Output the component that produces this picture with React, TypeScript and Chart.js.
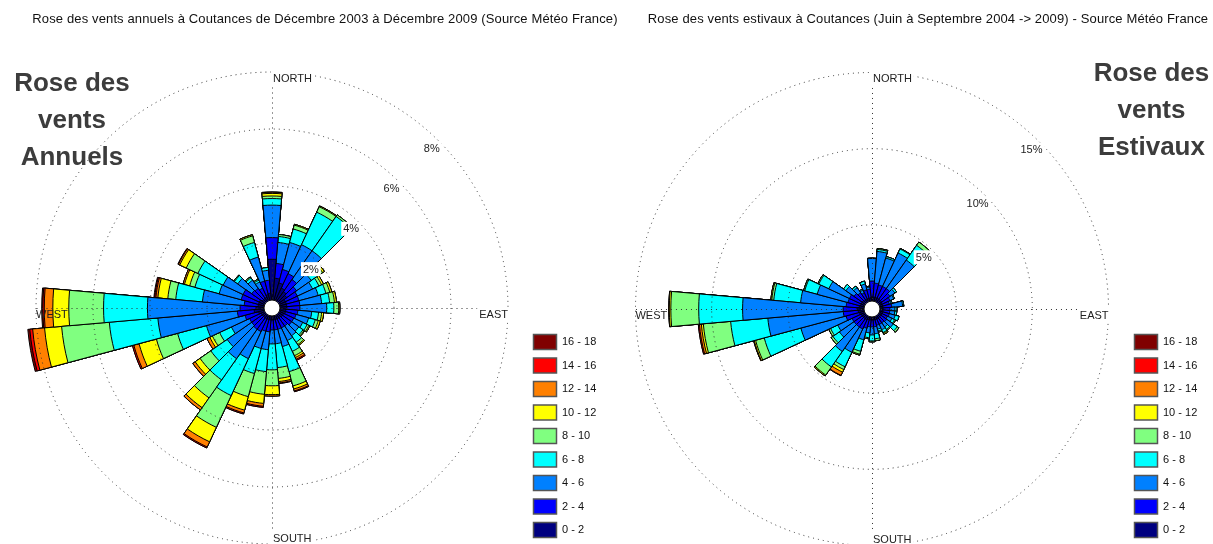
import React, { useEffect, useRef } from "react";
import { Chart, registerables } from "chart.js";

Chart.register(...registerables);

// Wind directions (degrees, clockwise from north), 10° sectors
const directions = [0, 10, 20, 30, 40, 50, 60, 70, 80, 90, 100, 110, 120, 130, 140, 150, 160, 170,
  180, 190, 200, 210, 220, 230, 240, 250, 260, 270, 280, 290, 300, 310, 320, 330, 340, 350];

const speedClasses = ["0 - 2", "2 - 4", "4 - 6", "6 - 8", "8 - 10", "10 - 12", "12 - 14", "14 - 16", "16 - 18"];
const classColors = ["#000080", "#0000FF", "#0080FF", "#00FFFF", "#80FF80", "#FFFF00", "#FF8000", "#FF0000", "#800000"];

// Annual rose (% of time per direction and speed class)
const annual_0_2 = [1.43, 0.77, 0.63, 0.49, 0.42, 0.35, 0.24, 0.24, 0.24, 0.24, 0.21, 0.21, 0.17, 0.17, 0.14, 0.14, 0.14, 0.14, 0.14, 0.14, 0.14, 0.14, 0.14, 0.14, 0.14, 0.21, 0.35, 0.28, 0.21, 0.21, 0.21, 0.14, 0.14, 0.14, 0.21, 0.24];
const annual_2_4 = [0.76, 0.52, 0.49, 0.56, 0.52, 0.42, 0.46, 0.46, 0.46, 0.46, 0.42, 0.38, 0.39, 0.39, 0.35, 0.35, 0.35, 0.35, 0.35, 0.42, 0.42, 0.49, 0.49, 0.45, 0.45, 0.49, 0.59, 0.56, 0.49, 0.63, 0.63, 0.45, 0.42, 0.35, 0.49, 0.46];
const annual_4_6 = [1.14, 0.74, 0.98, 1.12, 1.23, 0.63, 0.59, 0.70, 0.77, 0.94, 0.49, 0.46, 0.35, 0.31, 0.42, 0.49, 0.63, 0.49, 0.49, 0.63, 0.63, 1.05, 1.26, 1.05, 0.70, 1.40, 2.80, 3.25, 1.47, 0.80, 0.77, 0.60, 0.35, 0.24, 0.87, 0.35];
const annual_6_8 = [0.23, 0.21, 0.49, 1.26, 1.47, 0.35, 0.25, 0.28, 0.28, 0.25, 0.24, 0.24, 0.17, 0.18, 0.28, 0.42, 0.91, 0.84, 0.91, 0.77, 0.91, 1.43, 0.91, 0.70, 0.46, 1.05, 1.71, 1.54, 0.94, 0.88, 0.98, 0.14, 0.10, 0.07, 0.53, 0.10];
const annual_8_10 = [0.09, 0.07, 0.14, 0.21, 0.07, 0.14, 0.10, 0.14, 0.17, 0.17, 0.11, 0.11, 0.07, 0.05, 0.10, 0.17, 0.52, 0.38, 0.56, 0.80, 0.84, 1.23, 0.77, 0.46, 0.28, 0.77, 1.68, 1.22, 0.28, 0.19, 0.45, 0.03, 0.04, 0.04, 0.24, 0];
const annual_10_12 = [0.09, 0, 0.03, 0.03, 0, 0.07, 0.07, 0.07, 0.07, 0.04, 0.07, 0.07, 0.04, 0.02, 0.04, 0.07, 0.11, 0.11, 0.31, 0.32, 0.49, 0.56, 0.42, 0.21, 0.10, 0.63, 0.60, 0.56, 0.35, 0.19, 0.25, 0, 0, 0, 0.04, 0];
const annual_12_14 = [0.04, 0, 0, 0, 0, 0, 0, 0, 0, 0, 0, 0, 0, 0, 0, 0.07, 0.07, 0.05, 0.05, 0.10, 0.10, 0.20, 0.10, 0.10, 0.11, 0.19, 0.42, 0.30, 0.07, 0.05, 0.05, 0, 0, 0, 0, 0];
const annual_14_16 = [0.01, 0, 0, 0, 0, 0, 0, 0, 0, 0, 0, 0, 0, 0, 0, 0.04, 0.03, 0.02, 0, 0.04, 0.04, 0.04, 0, 0, 0, 0.05, 0.10, 0.05, 0.04, 0, 0.02, 0, 0, 0, 0, 0];
const annual_16_18 = [0, 0, 0, 0, 0, 0, 0, 0, 0, 0, 0, 0, 0, 0, 0, 0, 0, 0, 0, 0, 0, 0, 0, 0, 0, 0, 0.07, 0.04, 0.03, 0, 0, 0, 0, 0, 0, 0];

// Summer rose (June - September)
const summer_0_2 = [0.26, 0.26, 0.26, 0.26, 0.26, 0.26, 0.20, 0.20, 0.20, 0.20, 0.20, 0.20, 0.20, 0.20, 0.20, 0.20, 0.20, 0.20, 0.20, 0.20, 0.20, 0.26, 0.26, 0.26, 0.26, 0.33, 0.39, 0.46, 0.33, 0.26, 0.26, 0.26, 0.20, 0.20, 0.20, 0.20];
const summer_2_4 = [1.05, 0.92, 0.85, 0.85, 0.85, 0.66, 0.58, 0.45, 0.58, 0.45, 0.45, 0.45, 0.39, 0.45, 0.39, 0.39, 0.39, 0.45, 0.45, 0.45, 0.58, 0.66, 0.66, 0.66, 0.66, 0.91, 0.98, 0.91, 0.85, 0.85, 0.85, 0.66, 0.58, 0.45, 0.58, 0.58];
const summer_4_6 = [1.48, 2.09, 1.83, 2.42, 2.29, 0.39, 0.27, 0.13, 0.72, 0.33, 0.33, 0.40, 0.33, 0.53, 0.33, 0.39, 0.26, 0.46, 0.53, 0.40, 0.79, 1.69, 1.96, 1.17, 1.04, 3.07, 4.97, 6.60, 3.00, 2.09, 1.50, 0.65, 0.40, 0.20, 0.40, 0.14];
const summer_6_8 = [0.02, 0.13, 0.10, 0.29, 1.18, 0.13, 0.06, 0.07, 0.07, 0.13, 0.13, 0.26, 0.19, 0.32, 0.19, 0.20, 0.13, 0.33, 0.39, 0.32, 0.78, 1.05, 1.24, 0.52, 0.52, 2.49, 2.45, 2.88, 1.77, 0.85, 0.72, 0.19, 0.13, 0.07, 0.19, 0.06];
const summer_8_10 = [0, 0.06, 0, 0.04, 0.26, 0, 0, 0, 0, 0, 0, 0, 0.07, 0.13, 0.07, 0.06, 0.07, 0.13, 0.06, 0.07, 0.20, 0.20, 0.65, 0.14, 0.13, 0.59, 1.80, 1.83, 0.13, 0.07, 0.07, 0, 0, 0, 0, 0];
const summer_10_12 = [0, 0, 0, 0, 0, 0, 0, 0, 0, 0, 0, 0, 0, 0, 0, 0.07, 0, 0, 0, 0, 0.06, 0.19, 0.07, 0, 0, 0.09, 0.13, 0.10, 0.06, 0, 0, 0, 0, 0, 0, 0];
const summer_12_14 = [0, 0, 0, 0, 0, 0, 0, 0, 0, 0, 0, 0, 0, 0, 0, 0, 0, 0, 0, 0, 0, 0.23, 0, 0, 0, 0.04, 0.13, 0.03, 0, 0, 0, 0, 0, 0, 0, 0];
const summer_14_16 = [0, 0, 0, 0, 0, 0, 0, 0, 0, 0, 0, 0, 0, 0, 0, 0, 0, 0, 0, 0, 0, 0.03, 0, 0, 0, 0, 0.07, 0, 0, 0, 0, 0, 0, 0, 0, 0];
const summer_16_18 = [0, 0, 0, 0, 0, 0, 0, 0, 0, 0, 0, 0, 0, 0, 0, 0, 0, 0, 0, 0, 0, 0, 0, 0, 0, 0, 0, 0, 0, 0, 0, 0, 0, 0, 0, 0];

// Ring (tick) values in %
const annualRings = [2, 4, 6, 8];
const summerRings = [5, 10, 15];

const annualSeries = [annual_0_2, annual_2_4, annual_4_6, annual_6_8, annual_8_10, annual_10_12, annual_12_14, annual_14_16, annual_16_18];
const summerSeries = [summer_0_2, summer_2_4, summer_4_6, summer_6_8, summer_8_10, summer_10_12, summer_12_14, summer_14_16, summer_16_18];

const FONT = '"Liberation Sans", Arial, Helvetica, sans-serif';

function makeDecor(rings: number[], inset: number) {
  return {
    id: "roseDecor",
    afterDatasetsDraw(chart: any) {
      const s = chart.scales.r;
      const ctx = chart.ctx;
      const cx = s.xCenter + 0.5;
      const cy = s.yCenter + 0.5;
      const R = s.getDistanceFromCenterForValue(rings[rings.length - 1]);
      ctx.save();
      ctx.strokeStyle = "#333";
      ctx.lineWidth = 1;
      ctx.setLineDash([1, 4]);
      ctx.beginPath();
      ctx.moveTo(cx, cy - R);
      ctx.lineTo(cx, cy + R);
      ctx.moveTo(cx - R, cy);
      ctx.lineTo(cx + R, cy);
      ctx.stroke();
      ctx.restore();
    },
    afterDraw(chart: any) {
      const s = chart.scales.r;
      const ctx = chart.ctx;
      const cx = s.xCenter;
      const cy = s.yCenter;
      const R = s.getDistanceFromCenterForValue(rings[rings.length - 1]);
      const r0 = s.getDistanceFromCenterForValue(0);
      ctx.save();
      // central hole
      ctx.beginPath();
      ctx.arc(cx, cy, r0, 0, Math.PI * 2);
      ctx.fillStyle = "#fff";
      ctx.fill();
      ctx.strokeStyle = "#111";
      ctx.lineWidth = 1;
      ctx.stroke();

      ctx.font = "11px " + FONT;
      ctx.textBaseline = "middle";
      const put = (text: string, x: number, y: number, align: "left" | "right" | "center", bg: boolean) => {
        const w = ctx.measureText(text).width;
        let left = x;
        if (align === "right") left = x - w;
        if (align === "center") left = x - w / 2;
        if (bg) {
          ctx.fillStyle = "#fff";
          ctx.fillRect(left - 2, y - 7, w + 4, 14);
        }
        ctx.fillStyle = "#222";
        ctx.textAlign = "left";
        ctx.fillText(text, left, y + 0.5);
      };
      put("NORTH", cx + 1, cy - R + 6, "left", true);
      put("EAST", cx + R, cy + 6, "right", true);
      put("WEST", cx - R, cy + 6, "left", false);
      put("SOUTH", cx + 1, cy + R - 6, "left", true);
      const a = Math.PI / 4;
      rings.forEach((v) => {
        const d = s.getDistanceFromCenterForValue(v) - inset;
        put(v + "%", cx + d * Math.sin(a), cy - d * Math.cos(a), "center", true);
      });
      ctx.restore();
    },
  };
}

function buildConfig(series: number[][], rings: number[], min: number, max: number, padding: any, inset: number) {
  const cumulative: number[][] = [];
  series.forEach((arr, k) => {
    cumulative.push(arr.map((v, i) => (k === 0 ? v : cumulative[k - 1][i] + v)));
  });
  const datasets = cumulative.map((data, k) => ({
    label: speedClasses[k],
    data,
    backgroundColor: classColors[k],
    borderColor: "#000",
    borderWidth: 1,
    clip: false as any,
  }));
  return {
    type: "polarArea" as const,
    data: { labels: directions.map((d) => d + "°"), datasets },
    options: {
      animation: false as const,
      responsive: false,
      layout: { padding },
      scales: {
        r: {
          min,
          max,
          startAngle: -5,
          ticks: { display: false },
          grid: { circular: true, color: "#333", lineWidth: 1, z: 1 },
          border: { dash: [1, 4] },
          angleLines: { display: false },
          pointLabels: { display: false },
          afterBuildTicks: (scale: any) => {
            scale.ticks = rings.map((v) => ({ value: v }));
          },
        },
      },
      plugins: {
        tooltip: { enabled: false },
        title: { display: false },
        legend: {
          position: "right" as const,
          align: "end" as const,
          onClick: () => {},
          labels: {
            boxWidth: 23,
            boxHeight: 15,
            padding: 8.5,
            color: "#111",
            font: { size: 11, family: FONT },
            generateLabels: () =>
              speedClasses
                .map((t, i) => ({
                  text: t,
                  fillStyle: classColors[i],
                  strokeStyle: "#555",
                  lineWidth: 1.5,
                  hidden: false,
                  index: i,
                  fontColor: "#111",
                }))
                .reverse(),
          },
        },
      },
    },
    plugins: [makeDecor(rings, inset)],
  };
}

// legendLeft: wanted x (inside the canvas) of the legend's left edge
function Rose(props: { cfg: any; left: number; width: number; legendLeft: number }) {
  const ref = useRef<HTMLCanvasElement | null>(null);
  useEffect(() => {
    if (!ref.current) return;
    const chart: any = new Chart(ref.current, props.cfg);
    const lw = chart.legend ? chart.legend.width : 0;
    chart.options.layout.padding.right = Math.max(0, props.width - props.legendLeft - lw);
    chart.update();
    return () => chart.destroy();
  }, []);
  return (
    <canvas
      ref={ref}
      width={props.width}
      height={544}
      style={{ position: "absolute", left: props.left, top: 0, width: props.width, height: 544 }}
    />
  );
}

const bigText: React.CSSProperties = {
  position: "absolute",
  textAlign: "center",
  font: "bold 26px " + FONT,
  lineHeight: "37px",
  color: "#3c3c3c",
  whiteSpace: "nowrap",
};

const titleText: React.CSSProperties = {
  position: "absolute",
  top: 11,
  textAlign: "center",
  font: "13px " + FONT,
  letterSpacing: "0.13px",
  color: "#111",
  whiteSpace: "nowrap",
};

export default function App() {
  const annualCfg = buildConfig(annualSeries, annualRings, -0.28, 8.0, { left: 19, top: 72, right: 0, bottom: -2 }, 10);
  const summerCfg = buildConfig(summerSeries, summerRings, -0.523, 14.9, { left: 18, top: 74, right: 0, bottom: -2 }, 11);
  return (
    <div style={{ position: "absolute", left: 0, top: 0, width: 1213, height: 544, overflow: "hidden", background: "#fff" }}>
      <Rose cfg={annualCfg} left={0} width={625} legendLeft={525} />
      <Rose cfg={summerCfg} left={600} width={613} legendLeft={526} />
      <div style={{ ...titleText, left: 0, width: 650 }}>
        Rose des vents annuels à Coutances de Décembre 2003 à Décembre 2009 (Source Météo France)
      </div>
      <div style={{ ...titleText, left: 643, width: 570 }}>
        Rose des vents estivaux à Coutances (Juin à Septembre 2004 -&gt; 2009) - Source Météo France
      </div>
      <div style={{ ...bigText, left: 0, width: 144, top: 64 }}>
        Rose des<br />vents<br />Annuels
      </div>
      <div style={{ ...bigText, left: 1090, width: 123, top: 54 }}>
        Rose des<br />vents<br />Estivaux
      </div>
    </div>
  );
}
